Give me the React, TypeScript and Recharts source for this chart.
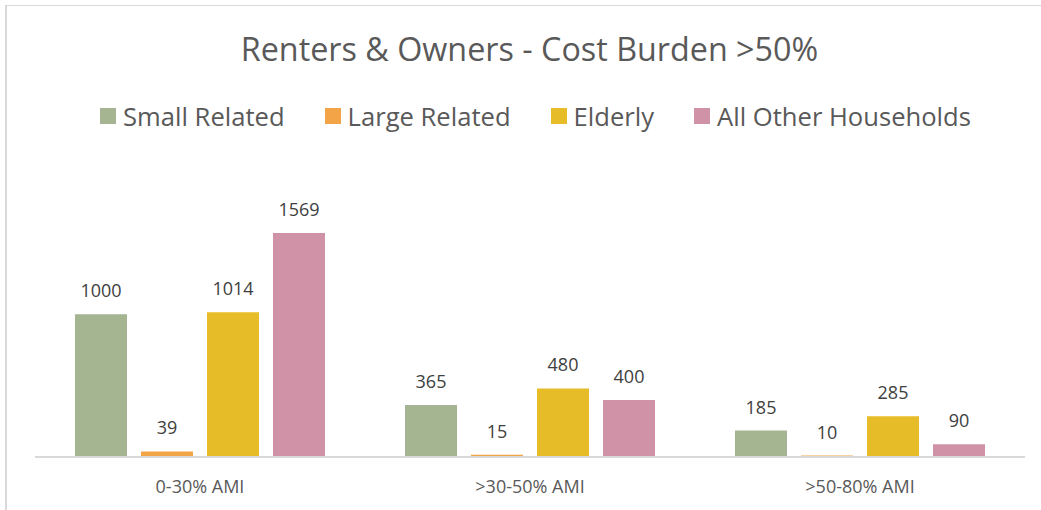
import React from "react";
import { BarChart, Bar, XAxis, YAxis, LabelList } from "recharts";

const categories = ["0-30% AMI", ">30-50% AMI", ">50-80% AMI"];
const smallRelated = [1000, 365, 185];
const largeRelated = [39, 15, 10];
const elderly = [1014, 480, 285];
const allOther = [1569, 400, 90];

const seriesNames = ["Small Related", "Large Related", "Elderly", "All Other Households"];
const seriesKeys = ["small", "large", "elderly", "other"];
const seriesColors = ["#A5B592", "#F3A447", "#E7BC29", "#D092A7"];

const data = categories.map((c, i) => ({
  name: c,
  small: smallRelated[i],
  large: largeRelated[i],
  elderly: elderly[i],
  other: allOther[i],
}));

const FONT = "'Open Sans', sans-serif";

export default function App() {
  return (
    <div
      style={{
        position: "absolute",
        left: 0,
        top: 0,
        width: 1041,
        height: 510,
        background: "#fff",
        overflow: "hidden",
        fontFamily: FONT,
      }}
    >
      <div
        style={{
          position: "absolute",
          left: 5,
          top: 5,
          width: 1200,
          height: 700,
          borderLeft: "2px solid #d9d9d9",
          borderTop: "1px solid #d9d9d9",
        }}
      />
      <div
        style={{
          position: "absolute",
          left: 9,
          width: 1041,
          top: 27,
          textAlign: "center",
          fontSize: 32.3,
          color: "#595959",
          lineHeight: "42px",
        }}
      >
        Renters &amp; Owners - Cost Burden &gt;50%
      </div>
      <div
        style={{
          position: "absolute",
          left: 15,
          width: 1041,
          top: 100,
          height: 32,
          display: "flex",
          justifyContent: "center",
          alignItems: "center",
          gap: 40,
          fontSize: 25.6,
          color: "#595959",
        }}
      >
        {seriesNames.map((n, i) => (
          <div key={n} style={{ display: "flex", alignItems: "center" }}>
            <div
              style={{
                width: 16,
                height: 16,
                background: seriesColors[i],
                marginRight: 7,
              }}
            />
            <span>{n}</span>
          </div>
        ))}
      </div>
      <div style={{ position: "absolute", left: 0, top: 0 }}>
        <BarChart
          width={1041}
          height={510}
          data={data}
          margin={{ top: 200, right: 16, bottom: 23, left: 35 }}
          barCategoryGap={40}
          barGap={14}
        >
          <XAxis
            dataKey="name"
            axisLine={{ stroke: "#d9d9d9", strokeWidth: 2 }}
            tickLine={false}
            tickSize={0}
            tickMargin={23}
            height={30}
            tick={{ fill: "#595959", fontSize: 18, fontFamily: FONT }}
          />
          <YAxis hide domain={[0, 1800]} />
          {seriesKeys.map((k, i) => (
            <Bar
              key={k}
              dataKey={k}
              name={seriesNames[i]}
              fill={seriesColors[i]}
              isAnimationActive={false}
            >
              <LabelList
                dataKey={k}
                position="top"
                offset={17}
                style={{ fill: "#404040", fontSize: 18, fontFamily: FONT }}
              />
            </Bar>
          ))}
        </BarChart>
      </div>
    </div>
  );
}
